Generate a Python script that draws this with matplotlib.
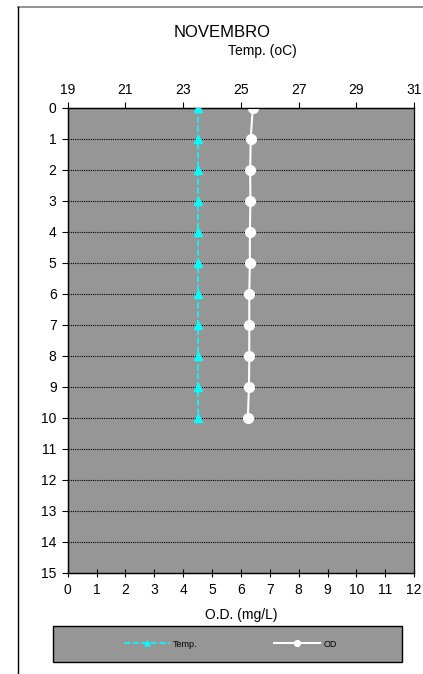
import matplotlib
matplotlib.use("Agg")
import matplotlib.pyplot as plt
from matplotlib.lines import Line2D
from matplotlib.patches import Rectangle

plt.rcParams['font.family'] = ['Liberation Sans', 'DejaVu Sans']

# data
depth = [0, 1, 2, 3, 4, 5, 6, 7, 8, 9, 10]
temp = [23.5, 23.5, 23.5, 23.5, 23.5, 23.5, 23.5, 23.5, 23.5, 23.5, 23.5]
od = [6.41, 6.34, 6.32, 6.33, 6.31, 6.31, 6.29, 6.29, 6.29, 6.28, 6.24]
od_ticks = list(range(0, 13))
temp_ticks = [19, 21, 23, 25, 27, 29, 31]
depth_ticks = list(range(0, 16))

fig = plt.figure(figsize=(4.23, 6.74), dpi=100)
ax = fig.add_axes([0.160, 0.150, 0.819, 0.690])
ax.set_facecolor('#969696')

# bottom axis: dissolved oxygen
ax.set_xlim(0, 12)
ax.set_ylim(15, 0)
ax.set_xticks(od_ticks)
ax.set_yticks(depth_ticks)
ax.tick_params(labelsize=10, length=4, direction='out', pad=4)
ax.tick_params(axis='x', direction='inout', length=6)
ax.set_xlabel('O.D. (mg/L)', fontsize=10, labelpad=8)
for d in depth_ticks[1:-1]:
    ax.axhline(d, color='black', linestyle=(0, (1, 1)), linewidth=0.8, zorder=1)
for s in ax.spines.values():
    s.set_linewidth(1.0)
ax.spines['right'].set_color('#808080')

# top axis: temperature
ax2 = ax.twiny()
ax2.set_xlim(19, 31)
ax2.set_xticks(temp_ticks)
ax2.tick_params(labelsize=10, length=4, direction='out', pad=4)

l1, = ax2.plot(temp, depth, color='#00FFFF', linestyle='--', linewidth=1.2,
               marker='^', markersize=6, markeredgecolor='#00FFFF', zorder=3)
l2, = ax.plot(od, depth, color='white', linestyle='-', linewidth=1.5,
              marker='o', markersize=7, markeredgecolor='white', zorder=3)

fig.text(0.525, 0.952, 'NOVEMBRO', fontsize=12, ha='center', va='center')
fig.text(0.62, 0.925, 'Temp. (oC)', fontsize=10, ha='center', va='center')

# legend box
fig.add_artist(Rectangle((0.125, 0.018), 0.825, 0.053, transform=fig.transFigure,
                         facecolor='#969696', edgecolor='black', linewidth=1.0))
leg = fig.legend([l1, l2], ['Temp.', 'OD'], ncol=2, fontsize=6.5,
                 loc='center', bbox_to_anchor=(0.545, 0.0445),
                 frameon=False, handlelength=5, columnspacing=8.5,
                 markerscale=0.6, handletextpad=0.4)

# outer frame lines
fig.add_artist(Line2D([0.043, 1.0], [0.989, 0.989], color='#808080', linewidth=1.2))
fig.add_artist(Line2D([0.043, 0.043], [0.0, 0.989], color='black', linewidth=1.0))

fig.savefig('out.png', dpi=100)
